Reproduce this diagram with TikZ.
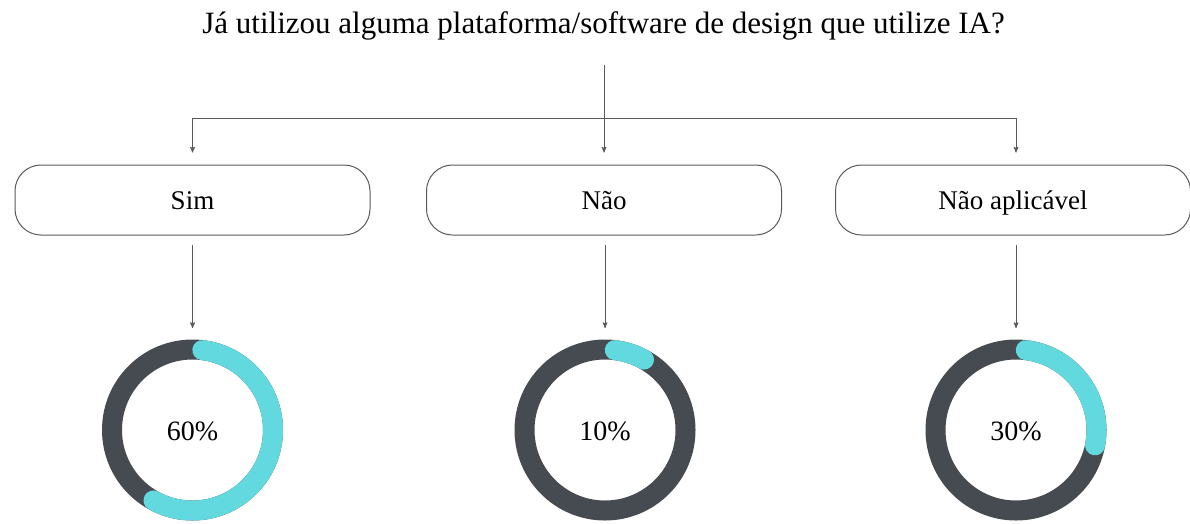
\documentclass[tikz,border=0pt]{standalone}
\usepackage{fontspec}
\setmainfont{Liberation Serif}
\usetikzlibrary{arrows, positioning}

\definecolor{linegray}{HTML}{5A5A5A}
\definecolor{ringgray}{HTML}{464B51}
\definecolor{ringcyan}{HTML}{62D9DF}

\tikzset{
  answer/.style={draw=linegray, line width=1pt, rounded corners=26pt,
    minimum width=355pt, minimum height=70pt, text height=20pt, text depth=1pt,
    font=\rmfamily\fontsize{27}{32}\selectfont},
  donut/.style={circle, minimum size=181pt, font=\rmfamily\fontsize{28}{32}\selectfont},
  ring/.style={-, ringgray, line width=20pt},
  share/.style={-, ringcyan, line width=20pt, line cap=round}
}

% #1 node name, #2 end angle of the cyan part
\newcommand{\donutring}[2]{
  \draw[ring] (#1) circle (80.5pt);
  \draw[share] (#1) ++(83:80.5pt) arc[start angle=83, end angle=#2, radius=80.5pt];
}

\begin{document}
\begin{tikzpicture}[x=1pt, y=1pt, ->, >=stealth', draw=linegray, line width=1pt]
  \useasboundingbox (0,0) rectangle (1190,-523);

  \node[anchor=base, font=\rmfamily\fontsize{31}{36}\selectfont] (q) at (603.5,-33)
    {Já utilizou alguma plataforma/software de design que utilize IA?};

  \node[answer] (sim)  at (192.5,-200) {Sim};
  \node[answer] (nao)  at (604,-200)   {Não};
  \node[answer] (napl) at (1013,-200)  {Não aplicável};

  \node[donut] (p1) at (192.5,-430) {};
  \node[donut] (p2) at (605,-430)   {};
  \node[donut] (p3) at (1016,-430)  {};

  \donutring{p1}{-119}
  \donutring{p2}{61}
  \donutring{p3}{-11}

  \node[donut] at (192.5,-431) {60\%};
  \node[donut] at (605,-431)   {10\%};
  \node[donut] at (1016,-431)  {30\%};

  \coordinate (t) at (604,-65);
  \coordinate (j) at (604,-118);

  \path (t)   edge [shorten >=12pt] (nao)
        (j)   edge [to path={-| (\tikztotarget)}, shorten >=12pt] (sim.north)
        (j)   edge [to path={-| (\tikztotarget)}, shorten >=12pt] (napl.north -| p3)
        (sim) edge [shorten <=9pt, shorten >=11pt] (p1)
        (nao.south -| p2) edge [shorten <=9pt, shorten >=11pt] (p2)
        (napl.south -| p3) edge [shorten <=9pt, shorten >=11pt] (p3);
\end{tikzpicture}
\end{document}
